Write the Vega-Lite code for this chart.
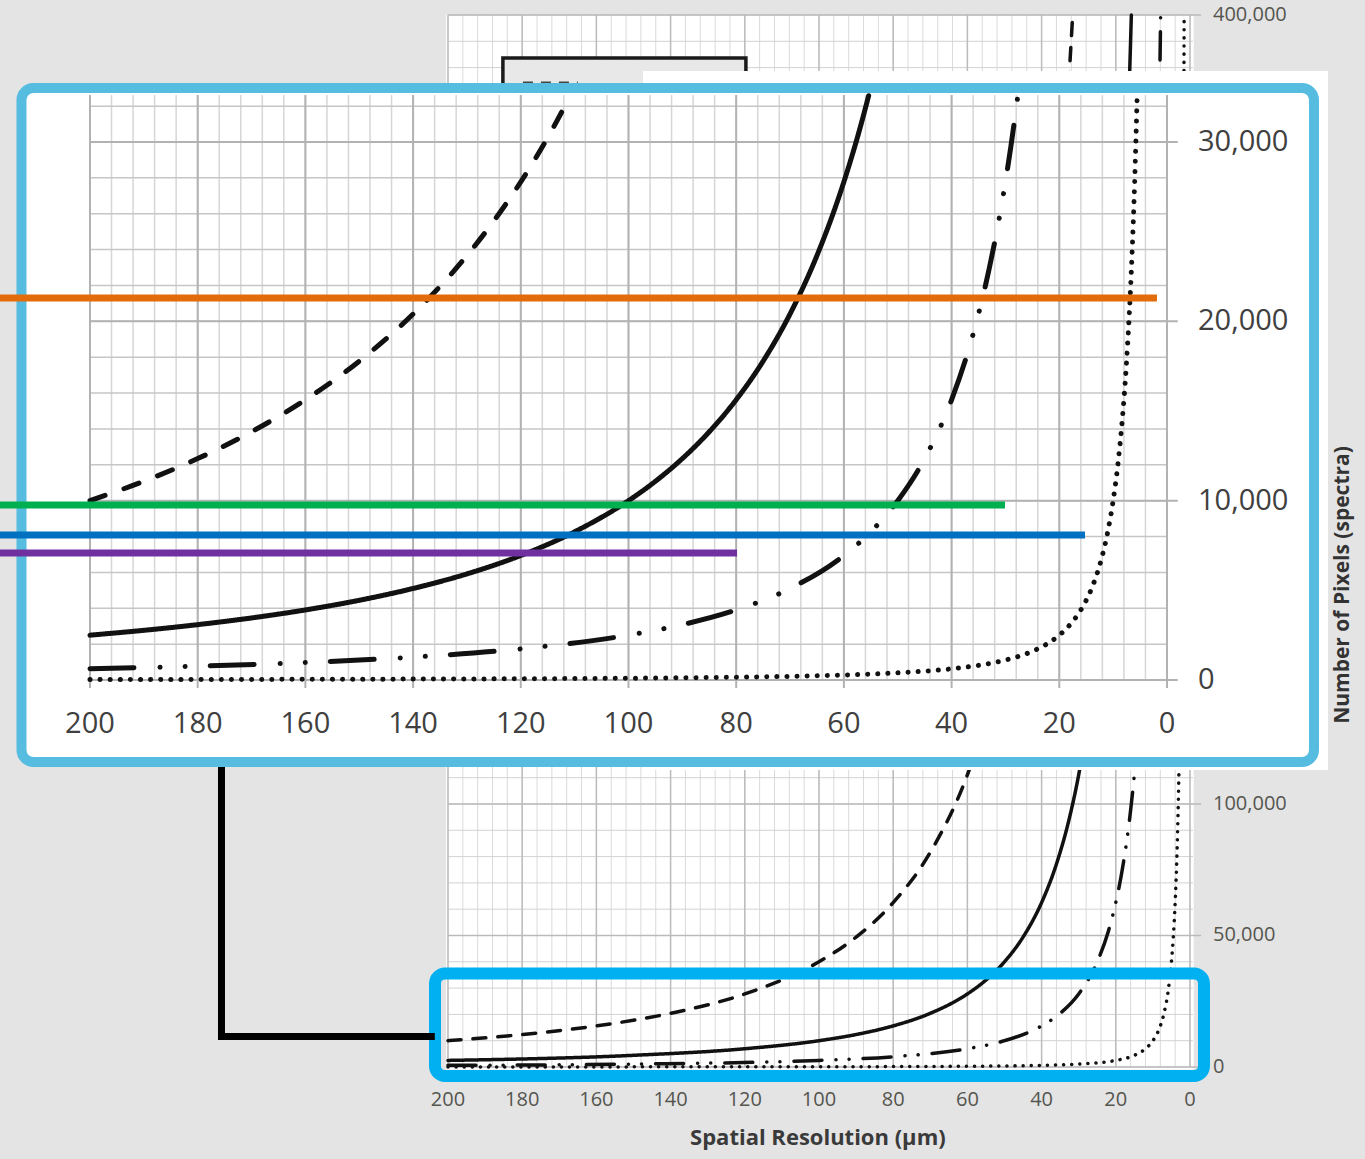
{
"$schema":"https://vega.github.io/schema/vega-lite/v6.json",
"width":1365,"height":1159,"padding":0,"autosize":{"type":"none"},
"background":"#e4e4e4",
"config":{"view":{"stroke":null},"axis":{"disable":true}},
"datasets":{
"gridR":[{"r":0},{"r":4},{"r":8},{"r":12},{"r":16},{"r":20},{"r":24},{"r":28},{"r":32},{"r":36},{"r":40},{"r":44},{"r":48},{"r":52},{"r":56},{"r":60},{"r":64},{"r":68},{"r":72},{"r":76},{"r":80},{"r":84},{"r":88},{"r":92},{"r":96},{"r":100},{"r":104},{"r":108},{"r":112},{"r":116},{"r":120},{"r":124},{"r":128},{"r":132},{"r":136},{"r":140},{"r":144},{"r":148},{"r":152},{"r":156},{"r":160},{"r":164},{"r":168},{"r":172},{"r":176},{"r":180},{"r":184},{"r":188},{"r":192},{"r":196},{"r":200}],
"gridIY":[{"v":0},{"v":2000},{"v":4000},{"v":6000},{"v":8000},{"v":10000},{"v":12000},{"v":14000},{"v":16000},{"v":18000},{"v":20000},{"v":22000},{"v":24000},{"v":26000},{"v":28000},{"v":30000},{"v":32000}],
"gridBY":[{"v":0},{"v":10000},{"v":20000},{"v":30000},{"v":40000},{"v":50000},{"v":60000},{"v":70000},{"v":80000},{"v":90000},{"v":100000},{"v":110000},{"v":120000},{"v":130000},{"v":140000},{"v":150000},{"v":160000},{"v":170000},{"v":180000},{"v":190000},{"v":200000},{"v":210000},{"v":220000},{"v":230000},{"v":240000},{"v":250000},{"v":260000},{"v":270000},{"v":280000},{"v":290000},{"v":300000},{"v":310000},{"v":320000},{"v":330000},{"v":340000},{"v":350000},{"v":360000},{"v":370000},{"v":380000},{"v":390000},{"v":400000}],
"labR":[{"r":200},{"r":180},{"r":160},{"r":140},{"r":120},{"r":100},{"r":80},{"r":60},{"r":40},{"r":20},{"r":0}],
"labIY":[{"v":0},{"v":10000},{"v":20000},{"v":30000}],
"labBY":[{"v":0},{"v":50000},{"v":100000},{"v":400000}],
"inset":[
{"s":"solid","r":200,"n":2500},{"s":"solid","r":190,"n":2770},{"s":"solid","r":180,"n":3086},{"s":"solid","r":170,"n":3460},{"s":"solid","r":160,"n":3906},{"s":"solid","r":150,"n":4444},{"s":"solid","r":140,"n":5102},{"s":"solid","r":130,"n":5917},{"s":"solid","r":120,"n":6944},{"s":"solid","r":110,"n":8264},{"s":"solid","r":100,"n":10000},{"s":"solid","r":95,"n":11080},{"s":"solid","r":90,"n":12346},{"s":"solid","r":85,"n":13841},{"s":"solid","r":80,"n":15625},{"s":"solid","r":75,"n":17778},{"s":"solid","r":70,"n":20408},{"s":"solid","r":65,"n":23669},{"s":"solid","r":60,"n":27778},{"s":"solid","r":57,"n":30779},{"s":"solid","r":55.4,"n":32582},
{"s":"dash","r":200,"n":10000},{"s":"dash","r":190,"n":11080},{"s":"dash","r":180,"n":12346},{"s":"dash","r":170,"n":13841},{"s":"dash","r":160,"n":15625},{"s":"dash","r":150,"n":17778},{"s":"dash","r":140,"n":20408},{"s":"dash","r":130,"n":23669},{"s":"dash","r":125,"n":25600},{"s":"dash","r":120,"n":27778},{"s":"dash","r":115,"n":30246},{"s":"dash","r":110.8,"n":32582},
{"s":"dashdot","r":200,"n":625},{"s":"dashdot","r":180,"n":772},{"s":"dashdot","r":160,"n":977},{"s":"dashdot","r":140,"n":1276},{"s":"dashdot","r":120,"n":1736},{"s":"dashdot","r":100,"n":2500},{"s":"dashdot","r":90,"n":3086},{"s":"dashdot","r":80,"n":3906},{"s":"dashdot","r":70,"n":5102},{"s":"dashdot","r":60,"n":6944},{"s":"dashdot","r":55,"n":8264},{"s":"dashdot","r":50,"n":10000},{"s":"dashdot","r":45,"n":12346},{"s":"dashdot","r":40,"n":15625},{"s":"dashdot","r":37,"n":18262},{"s":"dashdot","r":35,"n":20408},{"s":"dashdot","r":33,"n":22957},{"s":"dashdot","r":31,"n":26015},{"s":"dashdot","r":29,"n":29727},{"s":"dashdot","r":27.7,"n":32582},
{"s":"dot","r":200,"n":25},{"s":"dot","r":150,"n":44},{"s":"dot","r":100,"n":100},{"s":"dot","r":80,"n":156},{"s":"dot","r":60,"n":278},{"s":"dot","r":50,"n":400},{"s":"dot","r":40,"n":625},{"s":"dot","r":35,"n":816},{"s":"dot","r":30,"n":1111},{"s":"dot","r":25,"n":1600},{"s":"dot","r":22,"n":2066},{"s":"dot","r":20,"n":2500},{"s":"dot","r":18,"n":3086},{"s":"dot","r":16,"n":3906},{"s":"dot","r":14,"n":5102},{"s":"dot","r":13,"n":5917},{"s":"dot","r":12,"n":6944},{"s":"dot","r":11,"n":8264},{"s":"dot","r":10,"n":10000},{"s":"dot","r":9,"n":12346},{"s":"dot","r":8,"n":15625},{"s":"dot","r":7.5,"n":17778},{"s":"dot","r":7,"n":20408},{"s":"dot","r":6.5,"n":23669},{"s":"dot","r":6,"n":27778},{"s":"dot","r":5.54,"n":32582}
],
"bg":[
{"s":"solid","r":200,"n":2500},{"s":"solid","r":150,"n":4444},{"s":"solid","r":120,"n":6944},{"s":"solid","r":100,"n":10000},{"s":"solid","r":90,"n":12346},{"s":"solid","r":80,"n":15625},{"s":"solid","r":70,"n":20408},{"s":"solid","r":60,"n":27778},{"s":"solid","r":55,"n":33058},{"s":"solid","r":50,"n":40000},{"s":"solid","r":45,"n":49383},{"s":"solid","r":40,"n":62500},{"s":"solid","r":36,"n":77160},{"s":"solid","r":33,"n":91827},{"s":"solid","r":30,"n":111111},{"s":"solid","r":28,"n":127551},{"s":"solid","r":26,"n":147929},{"s":"solid","r":24,"n":173611},{"s":"solid","r":22,"n":206612},{"s":"solid","r":20,"n":250000},{"s":"solid","r":18,"n":308642},{"s":"solid","r":17,"n":346021},{"s":"solid","r":16,"n":390625},{"s":"solid","r":15.81,"n":400000},
{"s":"dash","r":200,"n":10000},{"s":"dash","r":180,"n":12346},{"s":"dash","r":160,"n":15625},{"s":"dash","r":140,"n":20408},{"s":"dash","r":120,"n":27778},{"s":"dash","r":100,"n":40000},{"s":"dash","r":90,"n":49383},{"s":"dash","r":80,"n":62500},{"s":"dash","r":70,"n":81633},{"s":"dash","r":60,"n":111111},{"s":"dash","r":55,"n":132231},{"s":"dash","r":50,"n":160000},{"s":"dash","r":45,"n":197531},{"s":"dash","r":42,"n":226757},{"s":"dash","r":40,"n":250000},{"s":"dash","r":38,"n":277008},{"s":"dash","r":36,"n":308642},{"s":"dash","r":34,"n":346021},{"s":"dash","r":32.5,"n":378698},{"s":"dash","r":31.62,"n":400000},
{"s":"dashdot","r":200,"n":625},{"s":"dashdot","r":150,"n":1111},{"s":"dashdot","r":100,"n":2500},{"s":"dashdot","r":80,"n":3906},{"s":"dashdot","r":60,"n":6944},{"s":"dashdot","r":50,"n":10000},{"s":"dashdot","r":40,"n":15625},{"s":"dashdot","r":35,"n":20408},{"s":"dashdot","r":30,"n":27778},{"s":"dashdot","r":25,"n":40000},{"s":"dashdot","r":22,"n":51653},{"s":"dashdot","r":20,"n":62500},{"s":"dashdot","r":18,"n":77160},{"s":"dashdot","r":16,"n":97656},{"s":"dashdot","r":14,"n":127551},{"s":"dashdot","r":13,"n":147929},{"s":"dashdot","r":12,"n":173611},{"s":"dashdot","r":11,"n":206612},{"s":"dashdot","r":10,"n":250000},{"s":"dashdot","r":9,"n":308642},{"s":"dashdot","r":8.5,"n":346021},{"s":"dashdot","r":8,"n":390625},{"s":"dashdot","r":7.91,"n":400000},
{"s":"dot","r":200,"n":25},{"s":"dot","r":100,"n":100},{"s":"dot","r":60,"n":278},{"s":"dot","r":40,"n":625},{"s":"dot","r":30,"n":1111},{"s":"dot","r":20,"n":2500},{"s":"dot","r":15,"n":4444},{"s":"dot","r":12,"n":6944},{"s":"dot","r":10,"n":10000},{"s":"dot","r":8,"n":15625},{"s":"dot","r":7,"n":20408},{"s":"dot","r":6,"n":27778},{"s":"dot","r":5,"n":40000},{"s":"dot","r":4.5,"n":49383},{"s":"dot","r":4,"n":62500},{"s":"dot","r":3.5,"n":81633},{"s":"dot","r":3,"n":111111},{"s":"dot","r":2.7,"n":137174},{"s":"dot","r":2.5,"n":160000},{"s":"dot","r":2.3,"n":189036},{"s":"dot","r":2.1,"n":226757},{"s":"dot","r":2,"n":250000},{"s":"dot","r":1.8,"n":308642},{"s":"dot","r":1.7,"n":346021},{"s":"dot","r":1.6,"n":390625},{"s":"dot","r":1.58,"n":400000}
]
},
"layer":[
{"layer":[
 {"data":{"values":[{}]},"mark":{"type":"rect","fill":"#ffffff"},"encoding":{"x":{"datum":200.5,"scale":{"domain":[-47.17,320.75],"reverse":true,"nice":false,"zero":false}},"x2":{"datum":-1},"y":{"datum":-1000,"scale":{"domain":[-34981,405703],"nice":false,"zero":false}},"y2":{"datum":400000}}},
 {"data":{"name":"gridR"},"mark":{"type":"rule","color":"#dadada","strokeWidth":1},"encoding":{"x":{"field":"r","type":"quantitative","scale":{"domain":[-47.17,320.75],"reverse":true,"nice":false,"zero":false}},"y":{"datum":0,"scale":{"domain":[-34981,405703],"nice":false,"zero":false}},"y2":{"datum":400000}}},
 {"data":{"name":"gridBY"},"mark":{"type":"rule","color":"#d2d2d2","strokeWidth":1},"encoding":{"y":{"field":"v","type":"quantitative","scale":{"domain":[-34981,405703],"nice":false,"zero":false}},"x":{"datum":200,"scale":{"domain":[-47.17,320.75],"reverse":true,"nice":false,"zero":false}},"x2":{"datum":-0.8}}},
 {"data":{"name":"gridR"},"transform":[{"filter":"datum.r % 20 == 0"}],"mark":{"type":"rule","color":"#bcbcbc","strokeWidth":1.5},"encoding":{"x":{"field":"r","type":"quantitative","scale":{"domain":[-47.17,320.75],"reverse":true,"nice":false,"zero":false}},"y":{"datum":0,"scale":{"domain":[-34981,405703],"nice":false,"zero":false}},"y2":{"datum":400000}}},
 {"data":{"name":"gridBY"},"transform":[{"filter":"datum.v % 50000 == 0"}],"mark":{"type":"rule","color":"#bababa","strokeWidth":1.5},"encoding":{"y":{"field":"v","type":"quantitative","scale":{"domain":[-34981,405703],"nice":false,"zero":false}},"x":{"datum":200,"scale":{"domain":[-47.17,320.75],"reverse":true,"nice":false,"zero":false}},"x2":{"datum":-3}}},
 {"data":{"name":"bg"},"mark":{"type":"line","color":"#111111","strokeWidth":3.5,"strokeCap":"round","interpolate":"monotone"},"encoding":{"x":{"field":"r","type":"quantitative","scale":{"domain":[-47.17,320.75],"reverse":true,"nice":false,"zero":false}},"y":{"field":"n","type":"quantitative","scale":{"domain":[-34981,405703],"nice":false,"zero":false}},"strokeDash":{"field":"s","type":"nominal","scale":{"domain":["solid","dash","dashdot","dot"],"range":[[1,0],[13,12],[28,14,0.1,13,0.1,14],[0.1,8]]},"legend":null}}},
 {"data":{"values":[{}]},"mark":{"type":"rect","fill":"#e8e8e8","stroke":"#1a1a1a","strokeWidth":3.5},"encoding":{"x":{"datum":185.2,"scale":{"domain":[-47.17,320.75],"reverse":true,"nice":false,"zero":false}},"x2":{"datum":119.7},"y":{"datum":360000,"scale":{"domain":[-34981,405703],"nice":false,"zero":false}},"y2":{"datum":383652}}},
 {"data":{"values":[{}]},"mark":{"type":"rule","color":"#444444","strokeWidth":4,"strokeDash":[10,8]},"encoding":{"x":{"datum":179.8,"scale":{"domain":[-47.17,320.75],"reverse":true,"nice":false,"zero":false}},"x2":{"datum":165},"y":{"datum":374000,"scale":{"domain":[-34981,405703],"nice":false,"zero":false}}}},
 {"data":{"name":"labR"},"mark":{"type":"text","font":"Open Sans","fontSize":20,"color":"#55554f","align":"center","baseline":"middle"},"encoding":{"x":{"field":"r","type":"quantitative","scale":{"domain":[-47.17,320.75],"reverse":true,"nice":false,"zero":false}},"y":{"datum":-12548,"scale":{"domain":[-34981,405703],"nice":false,"zero":false}},"text":{"field":"r","type":"quantitative"}}},
 {"data":{"name":"labBY"},"mark":{"type":"text","font":"Open Sans","fontSize":20,"color":"#55554f","align":"left","baseline":"middle"},"encoding":{"y":{"field":"v","type":"quantitative","scale":{"domain":[-34981,405703],"nice":false,"zero":false}},"x":{"datum":-6.2,"scale":{"domain":[-47.17,320.75],"reverse":true,"nice":false,"zero":false}},"text":{"field":"v","type":"quantitative","format":","}}},
 {"data":{"values":[{}]},"mark":{"type":"text","text":"Spatial Resolution (μm)","font":"Open Sans","fontSize":22,"fontWeight":"bold","color":"#3a3a3a","align":"center","baseline":"middle"},"encoding":{"x":{"datum":100.3,"scale":{"domain":[-47.17,320.75],"reverse":true,"nice":false,"zero":false}},"y":{"datum":-26996,"scale":{"domain":[-34981,405703],"nice":false,"zero":false}}}},
 {"data":{"values":[{}]},"mark":{"type":"text","text":"Number of Pixels (spectra)","font":"Open Sans","fontSize":21,"fontWeight":"bold","color":"#333333","align":"center","baseline":"middle","angle":270},"encoding":{"x":{"datum":-41.24,"scale":{"domain":[-47.17,320.75],"reverse":true,"nice":false,"zero":false}},"y":{"datum":183271,"scale":{"domain":[-34981,405703],"nice":false,"zero":false}}}},
 {"data":{"values":[{}]},"mark":{"type":"rect","filled":false,"stroke":"#00b0f0","strokeWidth":12,"cornerRadius":10},"encoding":{"x":{"datum":203.5,"scale":{"domain":[-47.17,320.75],"reverse":true,"nice":false,"zero":false}},"x2":{"datum":-3.77},"y":{"datum":-3422,"scale":{"domain":[-34981,405703],"nice":false,"zero":false}},"y2":{"datum":35551}}},
 {"data":{"values":[{}]},"mark":{"type":"rule","color":"#000000","strokeWidth":7,"strokeCap":"square"},"encoding":{"x":{"datum":261.05,"scale":{"domain":[-47.17,320.75],"reverse":true,"nice":false,"zero":false}},"y":{"datum":11597,"scale":{"domain":[-34981,405703],"nice":false,"zero":false}},"y2":{"datum":113689}}},
 {"data":{"values":[{}]},"mark":{"type":"rule","color":"#000000","strokeWidth":7,"strokeCap":"square"},"encoding":{"x":{"datum":261.05,"scale":{"domain":[-47.17,320.75],"reverse":true,"nice":false,"zero":false}},"x2":{"datum":204.5},"y":{"datum":11597,"scale":{"domain":[-34981,405703],"nice":false,"zero":false}}}}
]},
{"layer":[
 {"data":{"values":[{}]},"mark":{"type":"rect","fill":"#ffffff"},"encoding":{"x":{"datum":97.31,"scale":{"domain":[-36.77,216.71],"reverse":true,"nice":false,"zero":false}},"x2":{"datum":-29.9},"y":{"datum":-5018,"scale":{"domain":[-26710,37918],"nice":false,"zero":false}},"y2":{"datum":33958}}},
 {"data":{"values":[{}]},"mark":{"type":"rect","fill":"#ffffff","stroke":"#56bde0","strokeWidth":10,"cornerRadius":12},"encoding":{"x":{"datum":212.72,"scale":{"domain":[-36.77,216.71],"reverse":true,"nice":false,"zero":false}},"x2":{"datum":-27.3},"y":{"datum":-4572,"scale":{"domain":[-26710,37918],"nice":false,"zero":false}},"y2":{"datum":33010}}},
 {"data":{"name":"gridR"},"mark":{"type":"rule","color":"#d6d6d6","strokeWidth":1.5},"encoding":{"x":{"field":"r","type":"quantitative","scale":{"domain":[-36.77,216.71],"reverse":true,"nice":false,"zero":false}},"y":{"datum":0,"scale":{"domain":[-26710,37918],"nice":false,"zero":false}},"y2":{"datum":32620}}},
 {"data":{"name":"gridIY"},"mark":{"type":"rule","color":"#c6c6c6","strokeWidth":1.5},"encoding":{"y":{"field":"v","type":"quantitative","scale":{"domain":[-26710,37918],"nice":false,"zero":false}},"x":{"datum":200,"scale":{"domain":[-36.77,216.71],"reverse":true,"nice":false,"zero":false}},"x2":{"datum":0}}},
 {"data":{"name":"gridR"},"transform":[{"filter":"datum.r % 20 == 0"}],"mark":{"type":"rule","color":"#b2b2b2","strokeWidth":2},"encoding":{"x":{"field":"r","type":"quantitative","scale":{"domain":[-36.77,216.71],"reverse":true,"nice":false,"zero":false}},"y":{"datum":-446,"scale":{"domain":[-26710,37918],"nice":false,"zero":false}},"y2":{"datum":32620}}},
 {"data":{"name":"gridIY"},"transform":[{"filter":"datum.v % 10000 == 0"}],"mark":{"type":"rule","color":"#b2b2b2","strokeWidth":2},"encoding":{"y":{"field":"v","type":"quantitative","scale":{"domain":[-26710,37918],"nice":false,"zero":false}},"x":{"datum":200,"scale":{"domain":[-36.77,216.71],"reverse":true,"nice":false,"zero":false}},"x2":{"datum":-2}}},
 {"data":{"name":"inset"},"mark":{"type":"line","color":"#111111","strokeWidth":5,"strokeCap":"round","interpolate":"monotone"},"encoding":{"x":{"field":"r","type":"quantitative","scale":{"domain":[-36.77,216.71],"reverse":true,"nice":false,"zero":false}},"y":{"field":"n","type":"quantitative","scale":{"domain":[-26710,37918],"nice":false,"zero":false}},"strokeDash":{"field":"s","type":"nominal","scale":{"domain":["solid","dash","dashdot","dot"],"range":[[1,0],[16,20],[44,26,0.1,25,0.1,25],[0.1,10]]},"legend":null}}},
 {"data":{"name":"labR"},"mark":{"type":"text","font":"Open Sans","fontSize":29,"color":"#404040","align":"center","baseline":"middle"},"encoding":{"x":{"field":"r","type":"quantitative","scale":{"domain":[-36.77,216.71],"reverse":true,"nice":false,"zero":false}},"y":{"datum":-2453,"scale":{"domain":[-26710,37918],"nice":false,"zero":false}},"text":{"field":"r","type":"quantitative"}}},
 {"data":{"name":"labIY"},"mark":{"type":"text","font":"Open Sans","fontSize":29,"color":"#404040","align":"left","baseline":"middle"},"encoding":{"y":{"field":"v","type":"quantitative","scale":{"domain":[-26710,37918],"nice":false,"zero":false}},"x":{"datum":-5.76,"scale":{"domain":[-36.77,216.71],"reverse":true,"nice":false,"zero":false}},"text":{"field":"v","type":"quantitative","format":","}}},
 {"data":{"values":[{}]},"mark":{"type":"rule","color":"#e36c0a","strokeWidth":7},"encoding":{"x":{"datum":216.71,"scale":{"domain":[-36.77,216.71],"reverse":true,"nice":false,"zero":false}},"x2":{"datum":1.86},"y":{"datum":21300,"scale":{"domain":[-26710,37918],"nice":false,"zero":false}}}},
 {"data":{"values":[{}]},"mark":{"type":"rule","color":"#00b050","strokeWidth":7},"encoding":{"x":{"datum":216.71,"scale":{"domain":[-36.77,216.71],"reverse":true,"nice":false,"zero":false}},"x2":{"datum":30.08},"y":{"datum":9758,"scale":{"domain":[-26710,37918],"nice":false,"zero":false}}}},
 {"data":{"values":[{}]},"mark":{"type":"rule","color":"#0070c0","strokeWidth":7},"encoding":{"x":{"datum":216.71,"scale":{"domain":[-36.77,216.71],"reverse":true,"nice":false,"zero":false}},"x2":{"datum":15.23},"y":{"datum":8085,"scale":{"domain":[-26710,37918],"nice":false,"zero":false}}}},
 {"data":{"values":[{}]},"mark":{"type":"rule","color":"#7030a0","strokeWidth":7},"encoding":{"x":{"datum":216.71,"scale":{"domain":[-36.77,216.71],"reverse":true,"nice":false,"zero":false}},"x2":{"datum":79.85},"y":{"datum":7082,"scale":{"domain":[-26710,37918],"nice":false,"zero":false}}}}
]}
],
"resolve":{"scale":{"x":"independent","y":"independent","strokeDash":"independent"}}
}
